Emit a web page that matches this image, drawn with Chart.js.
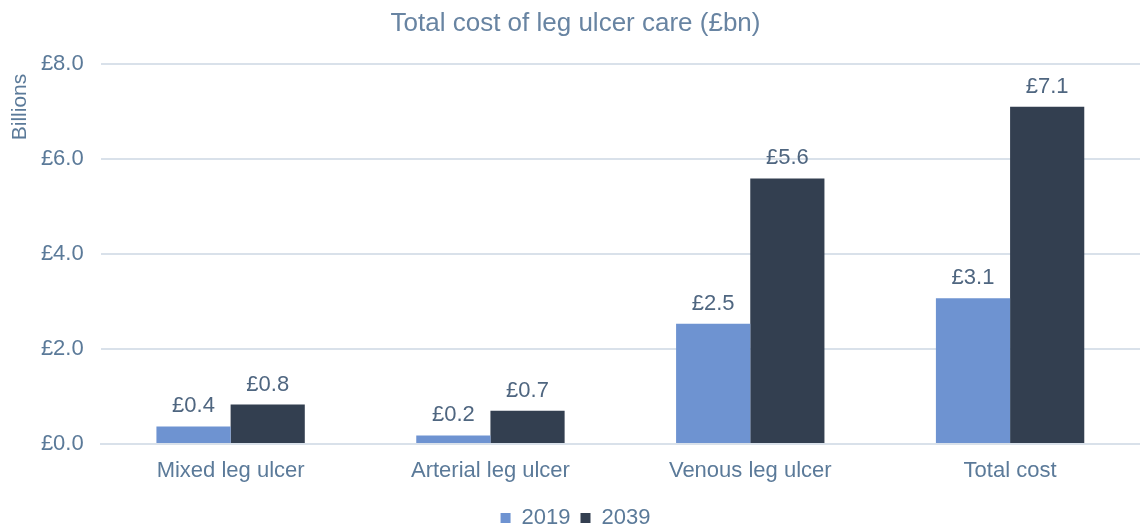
<!DOCTYPE html>
<html>
<head>
<meta charset="utf-8">
<script src="https://cdn.jsdelivr.net/npm/chart.js@4"></script>
<style>
  html, body { margin: 0; padding: 0; background: #fff; }
  #wrap { width: 1140px; height: 526px; }
</style>
</head>
<body>
<div id="wrap"><canvas id="costChart" width="1140" height="526"></canvas></div>
<script>
  // data
  const categories = ['Mixed leg ulcer', 'Arterial leg ulcer', 'Venous leg ulcer', 'Total cost'];
  const cost2019 = [0.37, 0.18, 2.53, 3.07];
  const cost2039 = [0.83, 0.70, 5.59, 7.10];
  const seriesNames = ['2019', '2039'];
  const yTicks = [0, 2, 4, 6, 8];

  const textColor = '#5b7a99';
  const labelColor = '#4f6680';
  const gridColor = '#d9e1ea';
  const font = 'Liberation Sans, Arial, sans-serif';

  // value labels above the bars + the rotated "Billions" axis title
  const barLabels = {
    id: 'barLabels',
    afterDatasetsDraw(chart) {
      const ctx = chart.ctx;
      ctx.save();
      ctx.font = '22px ' + font;
      ctx.fillStyle = labelColor;
      ctx.textAlign = 'center';
      ctx.textBaseline = 'alphabetic';
      chart.data.datasets.forEach((ds, i) => {
        chart.getDatasetMeta(i).data.forEach((bar, j) => {
          ctx.fillText('£' + ds.data[j].toFixed(1), bar.x, bar.y - 14);
        });
      });
      ctx.translate(26, 107);
      ctx.rotate(-Math.PI / 2);
      ctx.font = '21px ' + font;
      ctx.fillStyle = textColor;
      ctx.fillText('Billions', 0, 0);
      ctx.restore();
    },
  };

  new Chart(document.getElementById('costChart'), {
    type: 'bar',
    data: {
      labels: categories,
      datasets: [
        { label: seriesNames[0], data: cost2019, backgroundColor: '#6e93d1' },
        { label: seriesNames[1], data: cost2039, backgroundColor: '#333f50' },
      ],
    },
    options: {
      responsive: false,
      animation: false,
      devicePixelRatio: 1,
      layout: { padding: { left: 0, right: -11, top: 0, bottom: -13 } },
      datasets: { bar: { barPercentage: 1, categoryPercentage: 0.571 } },
      plugins: {
        title: {
          display: true,
          text: 'Total cost of leg ulcer care (£bn)',
          color: '#6884a2',
          font: { family: font, size: 26, weight: 'normal' },
          padding: { top: 8, bottom: 24.8 },
        },
        legend: {
          position: 'bottom',
          labels: {
            color: textColor,
            font: { family: font, size: 22 },
            boxWidth: 10,
            boxHeight: 10,
            padding: 10,
          },
        },
        tooltip: { enabled: false },
      },
      scales: {
        x: {
          grid: { display: false },
          border: { color: gridColor, width: 2 },
          ticks: { color: textColor, font: { family: font, size: 22 }, padding: 6 },
          afterFit: (s) => { s.height = 53; },
        },
        y: {
          min: 0,
          max: 8,
          afterBuildTicks: (s) => { s.ticks = yTicks.map((v) => ({ value: v })); },
          ticks: {
            color: textColor,
            font: { family: font, size: 22 },
            padding: 17,
            callback: (v) => '£' + v.toFixed(1),
          },
          grid: { color: gridColor, lineWidth: 2, drawTicks: false },
          border: { display: false },
          afterFit: (s) => { s.width = 100.7; },
        },
      },
    },
    plugins: [barLabels],
  });
</script>
</body>
</html>
